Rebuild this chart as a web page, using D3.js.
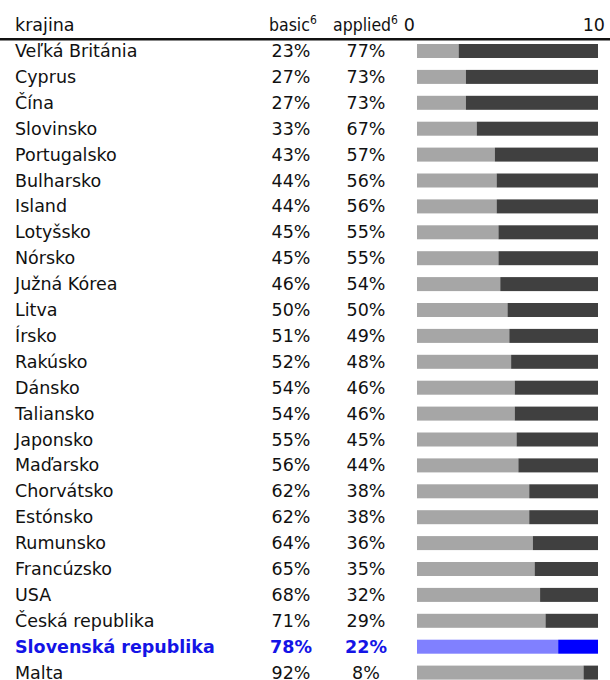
<!DOCTYPE html>
<html>
<head>
<meta charset="utf-8">
<script src="https://cdn.jsdelivr.net/npm/d3@7/dist/d3.min.js"></script>
<style>
    html, body { margin: 0; padding: 0; background: #fff; }
    svg { display: block; }
    text { font-family: "DejaVu Sans", sans-serif; font-size: 17.5px; fill: #111; }
    text.narrow { font-family: "DejaVu Sans Condensed", "DejaVu Sans", sans-serif; }
</style>
</head>
<body>
<script>
// share of basic vs applied research, by country
var countries = ['Veľká Británia', 'Cyprus', 'Čína', 'Slovinsko', 'Portugalsko',
    'Bulharsko', 'Island', 'Lotyšsko', 'Nórsko', 'Južná Kórea', 'Litva', 'Írsko',
    'Rakúsko', 'Dánsko', 'Taliansko', 'Japonsko', 'Maďarsko', 'Chorvátsko',
    'Estónsko', 'Rumunsko', 'Francúzsko', 'USA', 'Česká republika',
    'Slovenská republika', 'Malta'];
var basic = [23, 27, 27, 33, 43, 44, 44, 45, 45, 46, 50, 51, 52, 54, 54, 55, 56,
    62, 62, 64, 65, 68, 71, 78, 92];
var applied = [77, 73, 73, 67, 57, 56, 56, 55, 55, 54, 50, 49, 48, 46, 46, 45, 44,
    38, 38, 36, 35, 32, 29, 22, 8];
var tickLabels = ['0', '10'];
var highlight = 'Slovenská republika';

var WIDTH = 610,
    HEIGHT = 680,
    BAR_H = 14,
    NAME_X = 15,
    BASIC_X = 291,
    APPLIED_X = 366;

var svg = d3.select('body').append('svg')
    .attr('width', WIDTH)
    .attr('height', HEIGHT);

var x = d3.scaleLinear().domain([0, 100]).range([417, 598]);
var y = d3.scalePoint().domain(countries).range([51, 672.6]);

// header
var header = svg.append('g');
header.append('text').attr('x', NAME_X).attr('y', 31).text('krajina');

var h1 = header.append('text').attr('class', 'narrow').attr('x', 269).attr('y', 31);
h1.append('tspan').text('basic');
h1.append('tspan').attr('dy', -7).style('font-size', '12px').text('6');

var h2 = header.append('text').attr('class', 'narrow').attr('x', 333).attr('y', 31);
h2.append('tspan').text('applied');
h2.append('tspan').attr('dy', -7).style('font-size', '12px').text('6');

header.append('text').attr('x', x(0) - 2).attr('y', 31)
    .attr('text-anchor', 'end').text(tickLabels[0]);
header.append('text').attr('x', x(100) + 7).attr('y', 31)
    .attr('text-anchor', 'end').text(tickLabels[1]);

svg.append('rect')
    .attr('x', 0).attr('y', 38)
    .attr('width', WIDTH).attr('height', 2.5)
    .attr('fill', '#111');

// rows
var rows = countries.map((c, i) => ({
    name: c, basic: basic[i], applied: applied[i], hi: c === highlight
}));

var row = svg.selectAll('g.row')
    .data(rows)
    .enter().append('g')
    .attr('class', 'row')
    .attr('transform', d => `translate(0, ${y(d.name)})`);

row.append('rect')
    .attr('x', x(0))
    .attr('y', -BAR_H/2)
    .attr('width', d => x(d.basic) - x(0))
    .attr('height', BAR_H)
    .attr('fill', d => d.hi ? '#8080ff' : '#a6a6a6');

row.append('rect')
    .attr('x', d => x(d.basic))
    .attr('y', -BAR_H/2)
    .attr('width', d => x(100) - x(d.basic))
    .attr('height', BAR_H)
    .attr('fill', d => d.hi ? '#0000ff' : '#404040');

var txt = function(sel) {
    return sel.attr('y', 6)
        .style('font-weight', d => d.hi ? 'bold' : null)
        .style('fill', d => d.hi ? '#1414e6' : null);
};

row.append('text').call(txt)
    .attr('x', NAME_X)
    .text(d => d.name);

row.append('text').call(txt)
    .attr('x', BASIC_X)
    .attr('text-anchor', 'middle')
    .text(d => d.basic + '%');

row.append('text').call(txt)
    .attr('x', APPLIED_X)
    .attr('text-anchor', 'middle')
    .text(d => d.applied + '%');
</script>
</body>
</html>
